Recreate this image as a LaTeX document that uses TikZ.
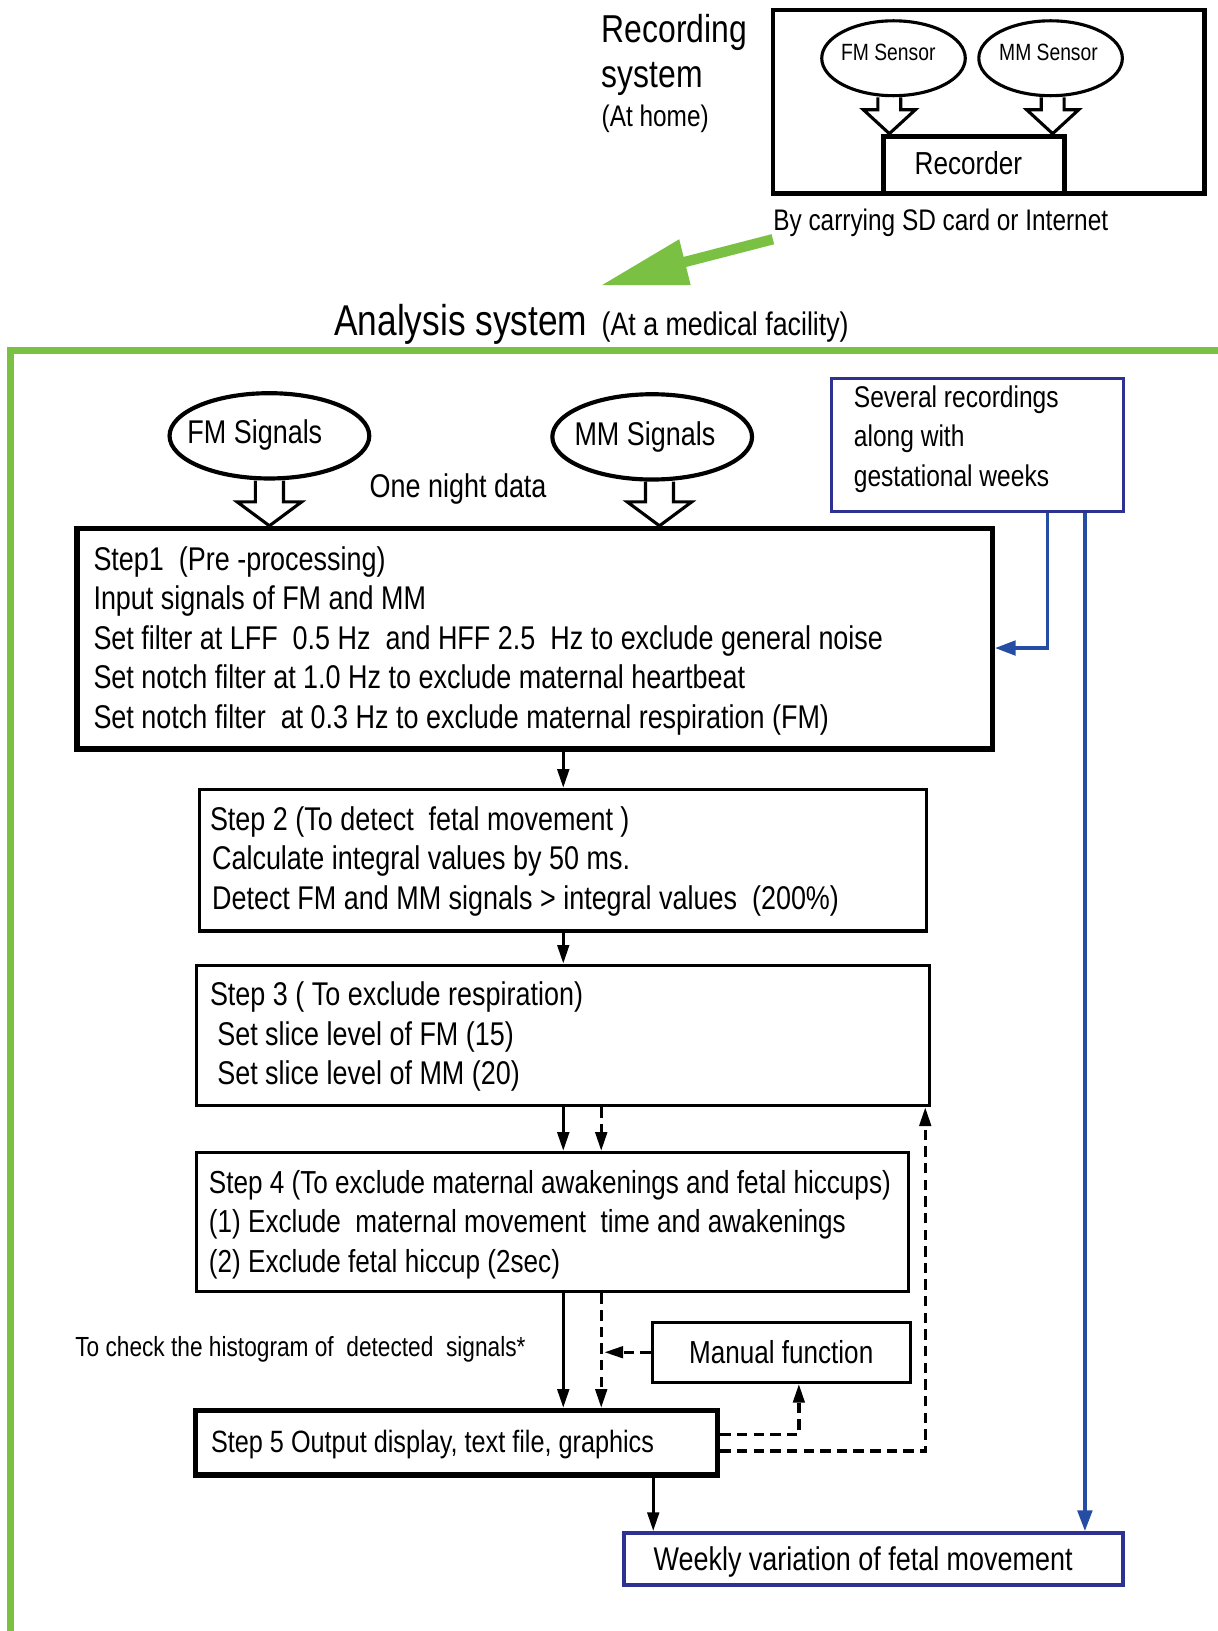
\documentclass[tikz,border=0pt]{standalone}
\usepackage{fontspec}
\setmainfont{Liberation Sans}[FakeStretch=0.82]
\usetikzlibrary{arrows.meta,shapes.geometric,calc}
\definecolor{ggreen}{RGB}{122,193,67}
\definecolor{bbox}{RGB}{46,49,146}
\definecolor{bline}{RGB}{38,77,164}
\newcommand{\mainsz}{\fontsize{15.3}{19}\selectfont}
\newcommand{\bigsz}{\fontsize{15.8}{19}\selectfont}
\newcommand{\hollowarr}[5]{%
  \draw[hollowline] let \p1=#1, \p2=#2 in
    (\x1-#3,\y1) -- (\x1-#3,\y2+#5) -- (\x1-#4,\y2+#5) -- (\x1,\y2)
    -- (\x1+#4,\y2+#5) -- (\x1+#3,\y2+#5) -- (\x1+#3,\y1);}
\begin{document}
\begin{tikzpicture}[x=0.5pt,y=-0.5pt,
  lbl/.style={inner sep=0pt, text=black},
  box/.style={draw, rectangle, inner sep=0pt},
  ell/.style={draw, ellipse, inner sep=0pt},
  arr/.style={line width=1.6pt, -{Triangle[length=9pt,width=5.5pt]}},
  darr/.style={arr, dash pattern=on 5pt off 3pt},
  barr/.style={draw=bline, line width=1.7pt, -{Triangle[length=10pt,width=7pt]}},
  hollowline/.style={line width=1.5pt, line join=miter},
]
\useasboundingbox[fill=white] (0,0) rectangle (1170,1568);

% ---------- Recording system ----------
\node[lbl, anchor=base west, font=\fontsize{18.7}{22}\selectfont] (rs1) at (578,41) {Recording};
\node[lbl, anchor=base west, font=\fontsize{18.7}{22}\selectfont] (rs2) at (578,84) {system};
\node[lbl, anchor=base west, font=\fontsize{14.3}{17}\selectfont] (rs3) at (578,122) {(At home)};

\node[box, line width=2pt, minimum width=207.5pt, minimum height=88pt] (recsys) at (950.5,98) {};
\node[ell, line width=1.5pt, minimum width=69pt, minimum height=36pt] (fmsen) at (859,56) {};
\node[lbl, font=\fontsize{11.3}{13}\selectfont] (fmsent) at ($(fmsen.center)+(-5,-6)$) {FM Sensor};
\node[ell, line width=1.5pt, minimum width=69pt, minimum height=36pt] (mmsen) at (1010,56) {};
\node[lbl, font=\fontsize{11.3}{13}\selectfont] (mmsent) at ($(mmsen.center)+(-2,-6)$) {MM Sensor};
\node[box, line width=2.5pt, minimum width=87pt, minimum height=27.5pt] (rec) at (936,158.5) {};
\node[lbl, font=\mainsz] (rect) at ($(rec.center)+(-5,-1.5)$) {Recorder};

\hollowarr{($(fmsen.south)+(-2pt,0)$)}{(rec.north)}{5.5pt}{12.5pt}{11.5pt}
\hollowarr{($(mmsen.south)+(1pt,0)$)}{(rec.north)}{5.5pt}{12.5pt}{11.5pt}

\node[lbl, anchor=base west, font=\fontsize{14.3}{17}\selectfont] (byc) at (743,222) {By carrying SD card or Internet};

% green transfer arrow
\coordinate (gstart) at (743,230);
\coordinate (gtip) at (579,274);
\draw[ggreen, line width=5pt] (gstart) -- (650,254);
\fill[ggreen] (gtip) -- (653,230) -- (664,274) -- cycle;

% ---------- Analysis system ----------
\node[lbl, anchor=base west, font=\fontsize{20.7}{24}\selectfont] (an1) at (321,323) {Analysis system};
\node[lbl, anchor=base west, font=\fontsize{15.7}{19}\selectfont] (an2) at (578,323) {(At a medical facility)};
\draw[ggreen, line width=3pt] (10,1575) -- (10,337) -- (1175,337);

\node[ell, line width=2pt, minimum width=96pt, minimum height=41pt] (fmsig) at (259,419) {};
\node[lbl, font=\bigsz] (fmsigt) at ($(fmsig.center)+(-14,-1)$) {FM Signals};
\node[ell, line width=2pt, minimum width=96pt, minimum height=41pt] (mmsig) at (627,420) {};
\node[lbl, font=\bigsz] (mmsigt) at ($(mmsig.center)+(-7,0)$) {MM Signals};
\node[lbl, anchor=base west, font=\bigsz] (night) at (355,478) {One night data};

% Step 1
\node[box, line width=2.5pt, minimum width=440pt, minimum height=106pt] (s1) at (514,614) {};
\node[lbl, anchor=west, align=left, font=\bigsz] (s1t) at ($(s1.west)+(9pt,2)$)
 {Step1\ \ (Pre -processing)\\
  Input signals of FM and MM\\
  Set filter at LFF\ \ 0.5 Hz\ \ and HFF 2.5\ \ Hz to exclude general noise\\
  Set notch filter at 1.0 Hz to exclude maternal heartbeat\\
  Set notch filter\ \ at 0.3 Hz to exclude maternal respiration (FM)};

\hollowarr{(fmsig.south)}{(s1.north)}{6.75pt}{15.5pt}{11.5pt}
\hollowarr{($(mmsig.south)+(3.5pt,0)$)}{(s1.north)}{6.75pt}{15.5pt}{11.5pt}

% Several recordings
\node[box, draw=bbox, line width=1.5pt, minimum width=140.5pt, minimum height=64pt] (sev) at (939.5,428) {};
\node[lbl, anchor=west, align=left, font=\fontsize{14.4}{19}\selectfont] (sevt) at ($(sev.west)+(11.5pt,-6)$)
 {Several recordings\\ along with\\ gestational weeks};

% Step 2
\node[box, line width=1.5pt, minimum width=349.5pt, minimum height=68pt] (s2) at (541.5,827) {};
\node[lbl, anchor=west, align=left, font=\bigsz] (s2t) at ($(s2.west)+(5.5pt,1)$)
 {Step 2 (To detect\ \ fetal movement )\\
  \hspace*{1pt}Calculate integral values by 50 ms.\\
  \hspace*{1pt}Detect FM and MM signals > integral values\ \ (200\%)};

% Step 3
\node[box, line width=1.5pt, minimum width=352.5pt, minimum height=67.5pt] (s3) at (541.5,995.5) {};
\node[lbl, anchor=west, align=left, font=\bigsz] (s3t) at ($(s3.west)+(7pt,1)$)
 {Step 3 ( To exclude respiration)\\
  \hspace*{3.5pt}Set slice level of FM (15)\\
  \hspace*{3.5pt}Set slice level of MM (20)};

% Step 4
\node[box, line width=1.5pt, minimum width=342pt, minimum height=67pt] (s4) at (531,1175) {};
\node[lbl, anchor=west, align=left, font=\mainsz] (s4t) at ($(s4.west)+(6.5pt,2)$)
 {Step 4 (To exclude maternal awakenings and fetal hiccups)\\
  (1) Exclude\ \ maternal movement\ \ time and awakenings\\
  (2) Exclude fetal hiccup (2sec)};

\node[lbl, anchor=base west, font=\fontsize{13.3}{16}\selectfont] (chk) at (72,1304) {To check the histogram of\ \ detected\ \ signals*};

% Manual function
\node[box, line width=1.5pt, minimum width=124pt, minimum height=29pt, font=\mainsz] (man) at (751,1300) {Manual function};

% Step 5
\node[box, line width=2.5pt, minimum width=251pt, minimum height=31pt] (s5) at (439,1387) {};
\node[lbl, anchor=west, font=\fontsize{14.8}{18}\selectfont] (s5t) at ($(s5.west)+(8.5pt,2)$)
 {Step 5 Output display, text file, graphics};

% Weekly variation
\node[box, draw=bbox, line width=2pt, minimum width=240pt, minimum height=25pt] (wk) at (840,1499) {};
\node[lbl, anchor=west, font=\bigsz] (wkt) at ($(wk.west)+(15pt,3)$) {Weekly variation of fetal movement};

% ---------- connectors ----------
\draw[arr] (s2.north |- s1.south) -- (s2.north);
\draw[arr] (s2.south) -- (s3.north);
\coordinate (dcol) at ($(s3.south)+(36.5,0)$);
\draw[arr] (s3.south) -- (s3.south |- s4.north);
\draw[darr] (dcol) -- (dcol |- s4.north);
\draw[arr] (s3.south |- s4.south) -- (s3.south |- s5.north);
\draw[darr] (dcol |- s4.south) -- (dcol |- s5.north);
\coordinate (mtip) at ($(man.west -| dcol)+(3,0)$);
\draw[darr] (man.west) -- (mtip);
\draw[darr] ($(s5.east)+(0,-8)$) -| ($(man.south)+(17,0)$);
\draw[darr] ($(s5.east)+(0,8)$) -| ($(s3.south east)+(-6,0)$);
\coordinate (c5) at ($(s5.south)+(189,0)$);
\draw[arr] (c5) -- (c5 |- wk.north);

\coordinate (b1) at ($(sev.south)+(67.5,0)$);
\draw[barr] (b1) |- ($(s1.east)+(0,9)$);
\coordinate (b2) at ($(sev.south)+(103.5,0)$);
\draw[barr] (b2) -- (b2 |- wk.north);
\end{tikzpicture}
\end{document}
